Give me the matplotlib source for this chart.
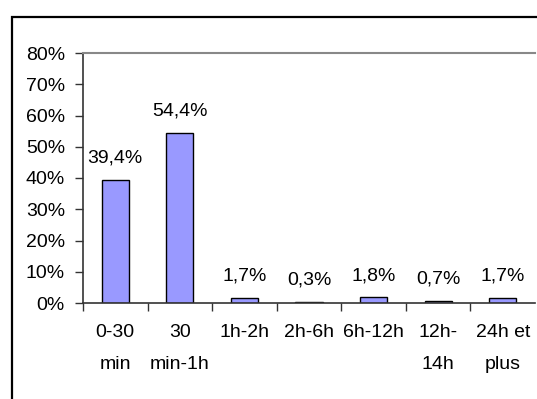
import matplotlib.pyplot as plt
import matplotlib.ticker as mtick
from matplotlib.patches import Rectangle
import numpy as np

plt.rcParams['font.family'] = ['Liberation Sans', 'DejaVu Sans']

# Duration categories and share of cases (%)
categories = ['0-30\nmin', '30\nmin-1h', '1h-2h', '2h-6h', '6h-12h', '12h-\n14h', '24h et\nplus']
shares = [39.4, 54.4, 1.7, 0.3, 1.8, 0.7, 1.7]
y_ticks = [0, 10, 20, 30, 40, 50, 60, 70, 80]

W, H = 537, 399
FS = 14
fig = plt.figure(figsize=(W / 100, H / 100), dpi=100)
ax = fig.add_axes([83 / W, 1 - 303 / H, (535 - 83) / W, (303 - 53) / H])

# outer chart frame (runs off the right and bottom edges)
fig.patches.append(Rectangle((11.5 / W, -0.2), 1.5, 1 - 17 / H + 0.2,
                             transform=fig.transFigure, fill=False,
                             edgecolor='black', linewidth=1.6))

x = np.arange(len(categories))
bars = ax.bar(x, shares, width=0.42, color='#9999FF', edgecolor='black', linewidth=1.0)

for bar, v in zip(bars, shares):
    label = f'{v:.1f}%'.replace('.', ',')
    ax.annotate(label, (bar.get_x() + bar.get_width() / 2, v),
                xytext=(0, 12.5), textcoords='offset points',
                ha='center', va='baseline', fontsize=FS)

ax.set_xlim(-0.5, len(categories) - 0.5)
ax.set_ylim(0, 80)
ax.set_yticks(y_ticks)
ax.yaxis.set_major_formatter(mtick.FuncFormatter(lambda v, _: f'{v:.0f}%'))

ax.set_xticks(x)
ax.set_xticklabels(categories, fontsize=FS, linespacing=2.2, va='top')
ax.set_xticks(np.arange(len(categories)) - 0.5, minor=True)
ax.tick_params(axis='x', which='major', length=0, pad=15)
ax.tick_params(axis='x', which='minor', length=6, width=1, color='#333333', direction='out')
ax.tick_params(axis='y', length=6, width=1, color='#333333', pad=7, labelsize=FS)

for side in ('left', 'bottom'):
    ax.spines[side].set_color('#333333')
    ax.spines[side].set_linewidth(1.2)
ax.spines['top'].set_color('#888888')
ax.spines['top'].set_linewidth(1.5)
ax.spines['right'].set_visible(False)

fig.savefig('out.png', dpi=100)
